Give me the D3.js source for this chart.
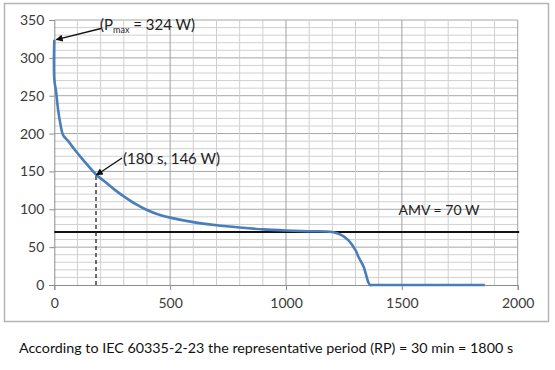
<!DOCTYPE html>
<html>
<head>
<meta charset="utf-8">
<script src="https://cdn.jsdelivr.net/npm/d3@7"></script>
<style>
  body { margin: 0; background: #fff; }
  text { font-family: Lato, "Open Sans", sans-serif; }
</style>
</head>
<body>
<script>
// power duration curve
var timeS  = [0, 0, 8, 15, 25, 38, 60, 90, 125, 180, 220, 260, 300, 350, 400, 450, 500, 600, 700, 800, 900, 1000, 1100, 1200, 1240, 1270, 1300, 1313, 1335, 1356, 1363, 1372, 1400, 1858];
var powerW = [324, 272, 255, 235, 215, 198, 190, 178, 165, 146, 136, 126, 117, 107, 99, 93, 89, 83, 79, 76, 73.5, 72, 71, 70, 66, 59, 46, 37, 24, 3, 0, 0, 0, 0];

var xTicks = [0, 500, 1000, 1500, 2000];
var yTicks = [0, 50, 100, 150, 200, 250, 300, 350];
var amv = 70;
var pmax = {t: 0, p: 324};
var marked = {t: 180, p: 146};
var caption = 'According to IEC 60335-2-23 the representative period (RP) = 30 min = 1800 s';

var svgWidth = 555, svgHeight = 370;

var svg = d3.select('body').append('svg')
            .attr('width', svgWidth)
            .attr('height', svgHeight);

// chart frame
svg.append('rect')
   .attr('x', 4.5).attr('y', 3.5)
   .attr('width', 544).attr('height', 318)
   .attr('fill', 'none')
   .attr('stroke', '#b5b5b5')
   .attr('stroke-width', 1.5);

var x = d3.scaleLinear().domain([0, 2000]).range([54.3, 517.7]);
var y = d3.scaleLinear().domain([0, 350]).range([285, 20]);

// gridlines
var g = svg.append('g');
g.selectAll('line.minorY')
 .data(d3.range(10, 351, 10))
 .enter().append('line')
 .attr('x1', x(0)).attr('x2', x(2000))
 .attr('y1', function(d) { return y(d); })
 .attr('y2', function(d) { return y(d); })
 .attr('stroke', function(d) { return d % 50 == 0 ? '#a6a6a6' : '#d0d0d0'; })
 .attr('stroke-width', 1);
g.selectAll('line.minorX')
 .data(d3.range(100, 2001, 100))
 .enter().append('line')
 .attr('y1', y(0)).attr('y2', y(350))
 .attr('x1', function(d) { return x(d); })
 .attr('x2', function(d) { return x(d); })
 .attr('stroke', function(d) { return d % 500 == 0 ? '#a0a0a0' : '#cfcfcf'; })
 .attr('stroke-width', 1);

// axes
var yAxis = svg.append('g')
   .attr('transform', 'translate(' + x(0) + ',0)')
   .call(d3.axisLeft(y).tickValues(yTicks).tickFormat(d3.format('d')).tickSize(5).tickPadding(5));
var xAxis = svg.append('g')
   .attr('transform', 'translate(0,' + y(0) + ')')
   .call(d3.axisBottom(x).tickValues(xTicks).tickFormat(d3.format('d')).tickSize(5).tickPadding(8));
[yAxis, xAxis].forEach(function(a) {
  a.select('.domain').attr('stroke', '#8c8c8c');
  a.selectAll('.tick line').attr('stroke', '#8c8c8c');
  a.selectAll('.tick text')
   .style('font-family', 'Lato, sans-serif')
   .style('font-size', '14px')
   .attr('fill', '#3a3a3a');
});

// AMV line
svg.append('line')
   .attr('x1', x(0)).attr('x2', x(2000) + 1.5)
   .attr('y1', y(amv)).attr('y2', y(amv))
   .attr('stroke', '#111').attr('stroke-width', 2);
svg.append('text')
   .attr('x', 439).attr('y', 215)
   .attr('text-anchor', 'middle')
   .style('font-size', '14px')
   .attr('fill', '#222')
   .text('AMV = ' + amv + ' W');

// dashed drop line
svg.append('line')
   .attr('x1', x(marked.t)).attr('x2', x(marked.t))
   .attr('y1', y(0)).attr('y2', y(marked.p))
   .attr('stroke', '#222').attr('stroke-width', 1.3)
   .attr('stroke-dasharray', '4,3');

// curve
var pts = timeS.map(function(t, i) { return [t, powerW[i]]; });
svg.append('path')
   .datum(pts)
   .attr('d', d3.line()
                .x(function(d) { return x(d[0]); })
                .y(function(d) { return y(d[1]); })
                .curve(d3.curveCatmullRom.alpha(0.5)))
   .attr('fill', 'none')
   .attr('stroke', '#4a7ebb')
   .attr('stroke-width', 2.6)
   .attr('stroke-linejoin', 'round');

// arrows
var defs = svg.append('defs');
defs.append('marker')
    .attr('id', 'arr')
    .attr('viewBox', '0 0 10 10')
    .attr('refX', 9).attr('refY', 5)
    .attr('markerWidth', 8).attr('markerHeight', 7)
    .attr('markerUnits', 'userSpaceOnUse')
    .attr('orient', 'auto')
    .append('path').attr('d', 'M0,0 L10,5 L0,10 z').attr('fill', '#111');

svg.append('line')
   .attr('x1', 101).attr('y1', 28.5)
   .attr('x2', x(pmax.t) + 2).attr('y2', y(pmax.p))
   .attr('stroke', '#111').attr('stroke-width', 1.3)
   .attr('marker-end', 'url(#arr)');
svg.append('line')
   .attr('x1', 122).attr('y1', 158)
   .attr('x2', x(marked.t) + 0.5).attr('y2', y(marked.p) + 0.5)
   .attr('stroke', '#111').attr('stroke-width', 1.3)
   .attr('marker-end', 'url(#arr)');

// annotation text
var pt = svg.append('text')
   .attr('x', 100).attr('y', 29.5)
   .style('font-size', '15px')
   .attr('fill', '#222');
pt.append('tspan').text('(P');
pt.append('tspan').attr('dy', 3).style('font-size', '9px').text('max');
pt.append('tspan').attr('dy', -3).text(' = ' + pmax.p + ' W)');

svg.append('text')
   .attr('x', 123).attr('y', 164)
   .style('font-size', '15px')
   .attr('fill', '#222')
   .text('(' + marked.t + ' s, ' + marked.p + ' W)');

// caption below the chart
svg.append('text')
   .attr('x', 266).attr('y', 353)
   .attr('text-anchor', 'middle')
   .style('font-size', '14.3px')
   .attr('fill', '#111')
   .text(caption);
</script>
</body>
</html>
